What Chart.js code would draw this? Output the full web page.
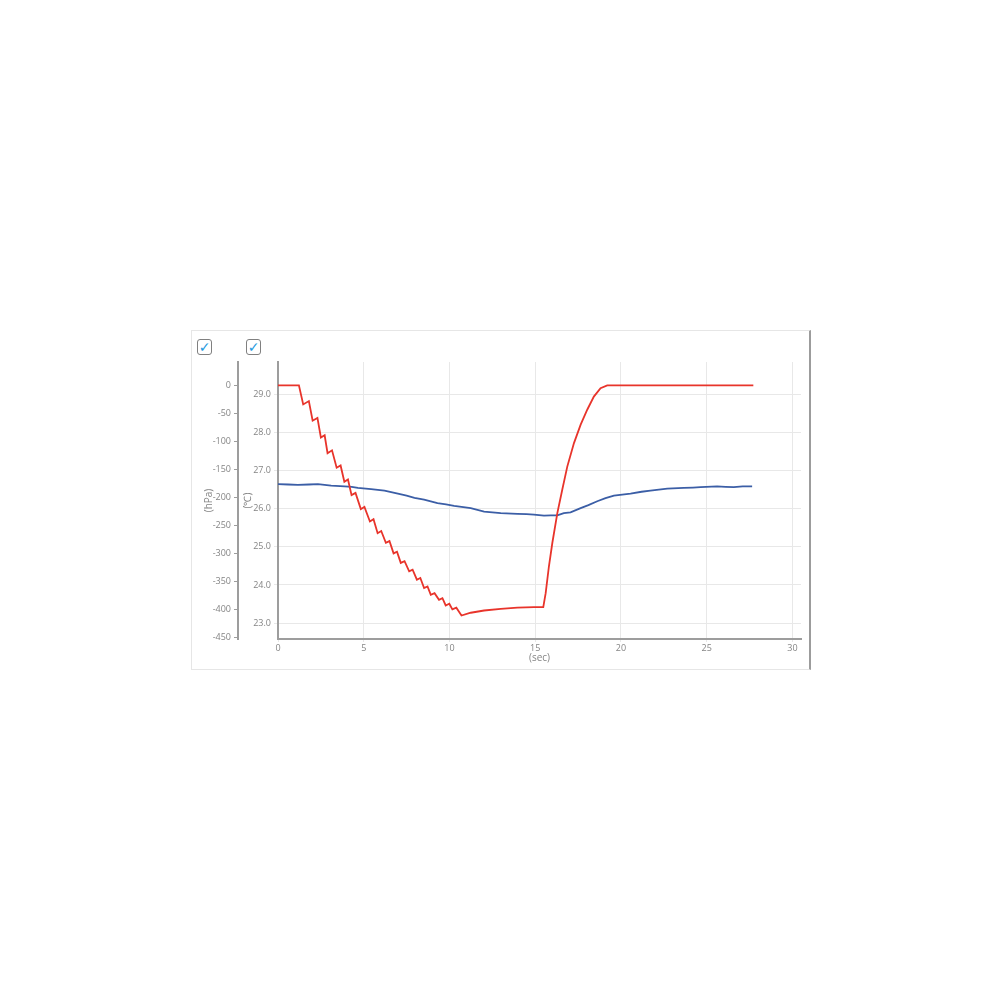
<!DOCTYPE html>
<html>
<head>
<meta charset="utf-8">
<title>pressure / temperature</title>
<script src="https://cdn.jsdelivr.net/npm/chart.js@4.4.1/dist/chart.umd.min.js"></script>
<style>
  html, body { margin: 0; padding: 0; background: #fff; }
  #wrap { position: relative; width: 1000px; height: 1000px; }
  #frame {
    position: absolute; left: 191px; top: 330px; width: 620px; height: 340px;
    border: 1px solid #e6e6e6; border-right: 2px solid #9c9c9c; box-sizing: border-box;
  }
  #chart { position: absolute; left: 0; top: 0; }
  .chk {
    position: absolute; top: 339px; width: 15px; height: 16px;
    border: 1.5px solid #808080; border-radius: 3px; box-sizing: border-box;
    font: bold 14px "DejaVu Sans", sans-serif; color: #1f9ae0;
    text-align: center; line-height: 14px; background: #fff;
  }
</style>
</head>
<body>
<div id="wrap">
  <div id="frame"></div>
  <div class="chk" style="left:197px">✓</div>
  <div class="chk" style="left:246px">✓</div>
  <canvas id="chart" width="1000" height="1000"></canvas>
</div>
<script>
// red trace: pressure (hPa) against time (sec)
const timeRed = [0, 1.22, 1.47, 1.80, 2.02, 2.30, 2.50, 2.72, 2.89, 3.15, 3.42, 3.65, 3.87, 4.08,
  4.29, 4.52, 4.83, 5.04, 5.36, 5.57, 5.81, 6.02, 6.29, 6.50, 6.74, 6.94, 7.16, 7.38, 7.65, 7.85,
  8.10, 8.30, 8.52, 8.72, 8.91, 9.13, 9.39, 9.59, 9.78, 9.99, 10.17, 10.40, 10.70, 11.24, 12.02,
  12.99, 13.96, 14.93, 15.47, 15.61, 15.80, 16.00, 16.29, 16.58, 16.87, 17.26, 17.65, 18.04,
  18.42, 18.81, 19.20, 27.72];
const pressure = [0, 0, -34, -28, -63, -58, -93, -89, -121, -116, -147, -143, -172, -168,
  -196, -192, -221, -217, -243, -239, -264, -260, -281, -278, -300, -297, -317, -314, -332, -329,
  -347, -344, -362, -359, -374, -371, -383, -380, -393, -390, -400, -397, -411, -406, -402,
  -399, -397, -396, -396, -371, -323, -281, -228, -186, -145, -103, -70, -43,
  -20, -5, 0, 0];

// blue trace: temperature (℃) against time (sec)
const timeBlue = [0, 0.6, 1.16, 1.8, 2.33, 3.1, 3.88, 4.3, 4.66, 5.43, 6.21, 6.99, 7.5, 7.96,
  8.52, 9.3, 9.8, 10.27, 11.24, 12.02, 12.5, 12.99, 13.96, 14.5, 14.93, 15.51, 15.9, 16.29,
  16.67, 17.06, 17.65, 18.1, 18.62, 19.1, 19.59, 20.56, 21.2, 21.72, 22.7, 23.66, 24.2, 24.64,
  25.61, 26.1, 26.58, 27.1, 27.65];
const temperature = [26.65, 26.64, 26.63, 26.64, 26.65, 26.61, 26.59, 26.58, 26.55, 26.52,
  26.48, 26.40, 26.35, 26.29, 26.24, 26.15, 26.12, 26.08, 26.02, 25.93, 25.91, 25.89, 25.87,
  25.86, 25.85, 25.82, 25.83, 25.83, 25.89, 25.91, 26.02, 26.10, 26.20, 26.28, 26.35, 26.40,
  26.45, 26.48, 26.53, 26.55, 26.56, 26.57, 26.59, 26.58, 26.57, 26.59, 26.59];

const secTicks = [0, 5, 10, 15, 20, 25, 30];
const hpaTicks = [0, -50, -100, -150, -200, -250, -300, -350, -400, -450];
const tempTicks = [23, 24, 25, 26, 27, 28, 29];

const axisGray = '#9d9d9d';
const gridGray = '#e8e8e8';
const labelGray = '#858585';
const tickFont = { family: 'Open Sans', size: 9 };
const titleFont = { family: 'Open Sans', size: 10 };

const zip = (xs, ys) => xs.map((x, i) => ({ x: x, y: ys[i] }));
const fixTicks = list => scale => { scale.ticks = list.map(v => ({ value: v })); };

new Chart(document.getElementById('chart'), {
  type: 'line',
  data: {
    datasets: [
      {
        label: 'hPa',
        data: zip(timeRed, pressure),
        yAxisID: 'yP',
        borderColor: '#e8342b',
        borderWidth: 1.8,
        pointRadius: 0,
        tension: 0,
        fill: false,
      },
      {
        label: '℃',
        data: zip(timeBlue, temperature),
        yAxisID: 'yT',
        borderColor: '#3b5ea6',
        borderWidth: 1.8,
        pointRadius: 0,
        tension: 0,
        fill: false,
      },
    ],
  },
  options: {
    responsive: false,
    animation: false,
    layout: { padding: { left: 190, top: 362, right: 199, bottom: 331 } },
    plugins: { legend: { display: false }, tooltip: { enabled: false } },
    scales: {
      x: {
        type: 'linear',
        min: 0,
        max: 30.5,
        afterBuildTicks: fixTicks(secTicks),
        afterFit: s => { s.height = 30; },
        grid: { color: gridGray, tickLength: 3, tickColor: gridGray },
        border: { color: axisGray, width: 2 },
        ticks: { color: labelGray, font: tickFont, padding: 1, maxRotation: 0 },
        title: { display: true, text: '(sec)', color: labelGray, font: titleFont, padding: { top: 0, bottom: 5 } },
      },
      yT: {
        type: 'linear',
        position: 'left',
        weight: 1,
        min: 22.58,
        max: 29.86,
        afterBuildTicks: fixTicks(tempTicks),
        afterFit: s => { s.width = 40; },
        grid: { color: gridGray, tickLength: 4, tickColor: gridGray },
        border: { color: axisGray, width: 2 },
        ticks: { color: labelGray, font: tickFont, padding: 3, callback: v => v.toFixed(1) },
        title: { display: true, text: '(℃)', color: labelGray, font: titleFont, padding: { top: 4, bottom: 0 } },
      },
      yP: {
        type: 'linear',
        position: 'left',
        weight: 2,
        min: -452.9,
        max: 41.8,
        afterBuildTicks: fixTicks(hpaTicks),
        afterFit: s => { s.width = 48; },
        grid: { drawOnChartArea: false, tickLength: 4, color: axisGray },
        border: { color: axisGray, width: 2 },
        ticks: { color: labelGray, font: tickFont, padding: 3 },
        title: { display: true, text: '(hPa)', color: labelGray, font: titleFont, padding: { top: 13, bottom: 0 } },
      },
    },
  },
});
</script>
</body>
</html>
